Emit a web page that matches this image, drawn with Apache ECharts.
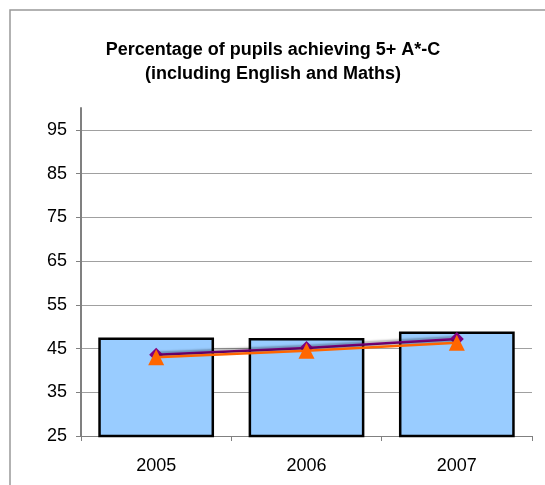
<!DOCTYPE html>
<html><head><meta charset="utf-8">
<script src="https://cdn.jsdelivr.net/npm/echarts@6/dist/echarts.min.js"></script>
<style>html,body{margin:0;padding:0;background:#fff}#c{width:545px;height:485px}</style>
</head><body><div id="c"></div>
<script>
var categories = ['2005', '2006', '2007'];
var barValues = [47.5, 47.4, 48.9];
var purpleValues = [43.6, 45.1, 47.2];
var orangeValues = [43.0, 44.5, 46.3];
var yMin = 25, yMax = 100, yStep = 10;

var chart = echarts.init(document.getElementById('c'), null, {renderer: 'canvas'});
var gridColors = [];
for (var v = yMin; v <= yMax; v += yStep) gridColors.push('#A0A0A0');
gridColors.push('rgba(0,0,0,0)');
var lineShadow = {shadowColor: 'rgba(0,0,0,0.3)', shadowBlur: 2, shadowOffsetX: 1, shadowOffsetY: -2};
chart.setOption({
  animation: false,
  textStyle: {fontFamily: 'Liberation Sans, Arial, sans-serif'},
  graphic: [{type: 'rect', shape: {x: 10, y: 10, width: 600, height: 600}, style: {fill: 'none', stroke: '#999999', lineWidth: 1.5}, silent: true}],
  title: {
    text: 'Percentage of pupils achieving 5+ A*-C\n(including English and Maths)',
    left: 268, top: 33, textAlign: 'center',
    textStyle: {fontSize: 18, fontWeight: 'bold', color: '#000', lineHeight: 24, fontFamily: 'Liberation Sans, Arial, sans-serif'}
  },
  grid: {left: 81, top: 108, width: 451, height: 328, containLabel: false},
  xAxis: {
    type: 'category', data: categories,
    axisLine: {lineStyle: {color: '#808080', width: 1}},
    axisTick: {show: true, alignWithLabel: false, length: 5, lineStyle: {color: '#808080'}},
    axisLabel: {color: '#000', fontSize: 18, margin: 21}
  },
  yAxis: {
    type: 'value', min: yMin, max: yMax, interval: yStep,
    axisLine: {show: true, lineStyle: {color: '#808080', width: 2}},
    axisTick: {show: true, length: 5, lineStyle: {color: '#808080'}},
    axisLabel: {color: '#000', fontSize: 18, margin: 14, showMaxLabel: false},
    splitLine: {show: true, lineStyle: {color: gridColors, width: 1}}
  },
  series: [
    {type: 'bar', data: barValues, barWidth: '77%',
     itemStyle: {color: '#99CCFF', borderColor: '#000', borderWidth: 2.5}},
    {type: 'line', data: purpleValues, symbol: 'diamond', symbolSize: 14,
     lineStyle: Object.assign({color: '#800080', width: 2.5}, lineShadow),
     itemStyle: {color: '#800080'}, z: 3},
    {type: 'line', data: orangeValues, symbol: 'triangle', symbolSize: 16,
     lineStyle: Object.assign({color: '#FF6600', width: 2.5}, lineShadow),
     itemStyle: {color: '#FF6600'}, z: 4}
  ]
});
</script></body></html>
